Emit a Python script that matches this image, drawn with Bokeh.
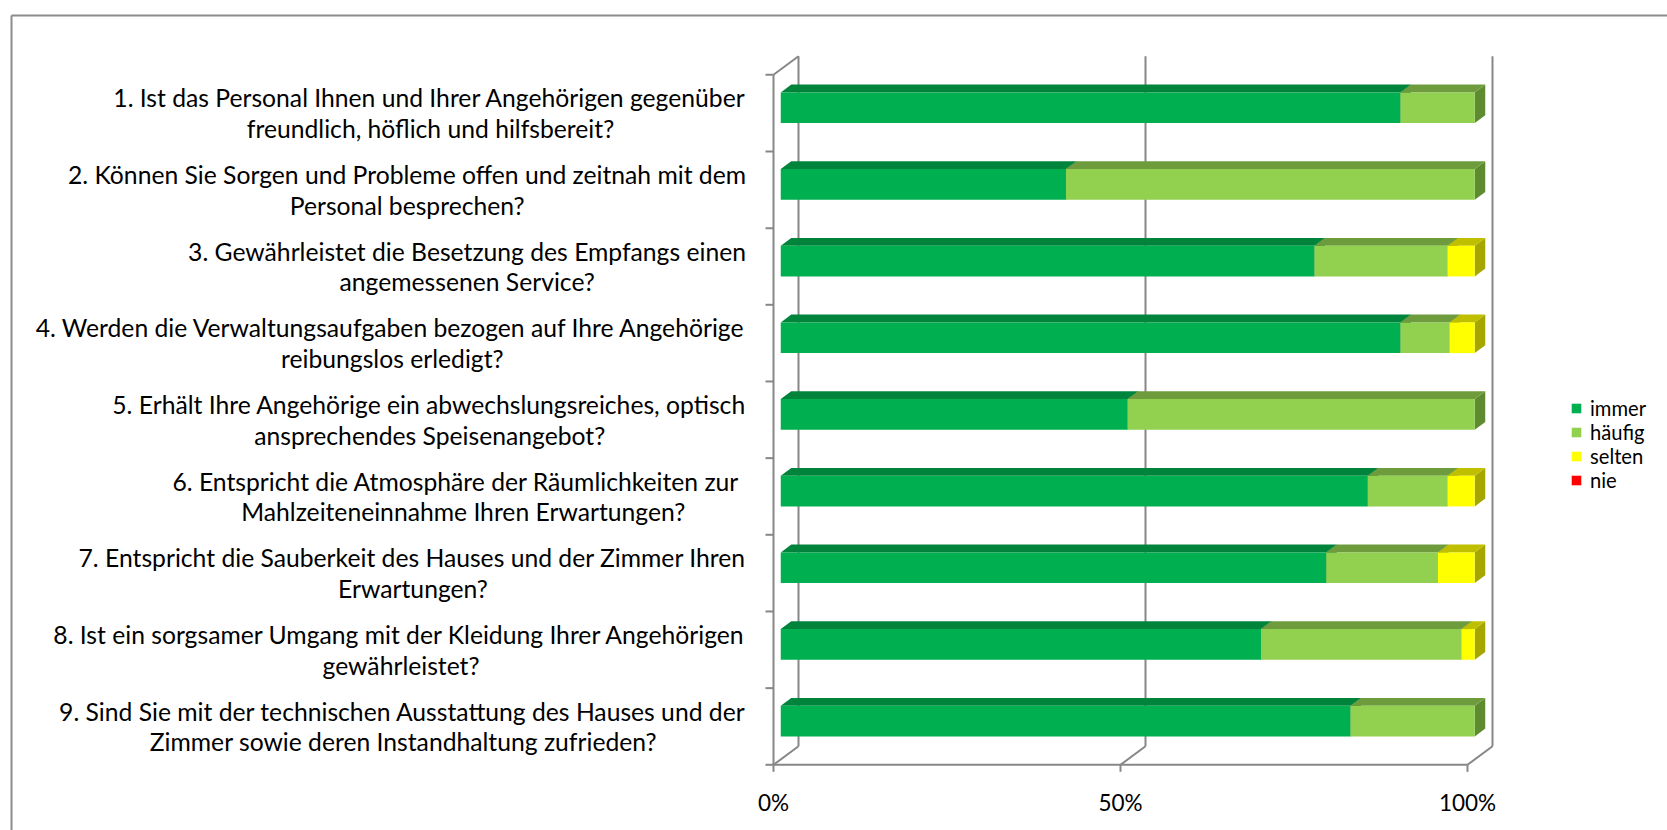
import glob
from bokeh.plotting import figure
from bokeh.models import Range1d, Legend, LegendItem
from bokeh.embed import file_html
from bokeh.resources import INLINE
from bokeh.core.properties import value

# ---------------- data ----------------
question_line1 = [
    "1. Ist das Personal Ihnen und Ihrer Angehörigen gegenüber",
    "2. Können Sie Sorgen und Probleme offen und zeitnah mit dem",
    "3. Gewährleistet die Besetzung des Empfangs einen",
    "4. Werden die Verwaltungsaufgaben bezogen auf Ihre Angehörige",
    "5. Erhält Ihre Angehörige ein abwechslungsreiches, optisch",
    "6. Entspricht die Atmosphäre der Räumlichkeiten zur ",
    "7. Entspricht die Sauberkeit des Hauses und der Zimmer Ihren",
    "8. Ist ein sorgsamer Umgang mit der Kleidung Ihrer Angehörigen",
    "9. Sind Sie mit der technischen Ausstattung des Hauses und der",
]
question_line2 = [
    "freundlich, höflich und hilfsbereit?",
    "Personal besprechen?",
    "angemessenen Service?",
    "reibungslos erledigt?",
    "ansprechendes Speisenangebot?",
    "Mahlzeiteneinnahme Ihren Erwartungen?",
    "Erwartungen?",
    "gewährleistet?",
    "Zimmer sowie deren Instandhaltung zufrieden?",
]
series_names = ["immer", "häufig", "selten", "nie"]
immer = [89.3, 41.1, 76.9, 89.3, 50.0, 84.6, 78.6, 69.2, 82.1]
haeufig = [10.7, 58.9, 19.2, 7.1, 50.0, 11.5, 16.1, 28.9, 17.9]
selten = [0.0, 0.0, 3.9, 3.6, 0.0, 3.9, 5.3, 1.9, 0.0]
nie = [0.0, 0.0, 0.0, 0.0, 0.0, 0.0, 0.0, 0.0, 0.0]
x_ticks = [0, 50, 100]
x_tick_labels = ["0%", "50%", "100%"]

# ---------------- styles ----------------
front_colors = ["#00B050", "#92D050", "#FFFF00", "#FF0000"]
top_colors = ["#00843C", "#6E9C3C", "#BFBF00", "#BF0000"]
side_colors = ["#006A30", "#5E8A30", "#A6A600", "#A00000"]
GRID = "#878787"
FONT = "Lato"

# ---------------- layout (pixels) ----------------
W, H = 1667, 830
X0_PX, X100_PX = 773.0, 1467.0
YBOT_PX, YTOP_PX = 764.3, 74.3
n = len(immer)
sx = (X100_PX - X0_PX) / 100.0        # px per percent
sy = (YBOT_PX - YTOP_PX) / n          # px per category band
DX = 25.0 / sx                        # depth offset in x (data units)
DY = 18.6 / sy                        # depth offset in y (data units)
D0, D1 = 0.29, 0.71                   # bar depth range (fraction of depth)
HALF = 0.2                            # bar half height (band units)

def px2x(px):
    return (px - X0_PX) / sx

def px2y(py):
    return (YBOT_PX - py) / sy

# ---------------- font measurement ----------------
def find_font():
    pats = ["/usr/share/fonts/**/Lato-Regular.ttf", "/usr/share/fonts/**/Lato-Reg*.ttf",
            "/usr/local/share/fonts/**/Lato-Regular.ttf", "/usr/share/fonts/**/Lato*.ttf"]
    for pat in pats:
        hits = sorted(glob.glob(pat, recursive=True))
        if hits:
            return hits[0]
    return None

font_path = find_font()
try:
    from PIL import ImageFont
    base_font = ImageFont.truetype(font_path, 100) if font_path else None
except Exception:
    base_font = None

def text_w(text, size):
    if base_font is not None:
        return base_font.getlength(text) * size / 100.0
    return len(text) * 0.5 * size

def size_for(text, target):
    return target * 100.0 / (text_w(text, 100.0))

label_size = size_for(question_line1[0], 631.0)
tick_size = label_size * 0.91
legend_size = label_size * 0.82

# ---------------- figure ----------------
p = figure(width=W, height=H, output_backend="svg", toolbar_location=None,
           x_range=Range1d(px2x(0), px2x(W)), y_range=Range1d(px2y(H), px2y(0)),
           min_border=0, outline_line_color=None)
p.xaxis.visible = False
p.yaxis.visible = False
p.xgrid.visible = False
p.ygrid.visible = False
p.background_fill_color = "white"
p.border_fill_color = "white"

# chart area border (top and left visible)
p.segment(x0=[px2x(11), px2x(11)], y0=[px2y(15), px2y(15)],
          x1=[px2x(W + 5), px2x(11)], y1=[px2y(15), px2y(H + 5)],
          line_color="#8C8C8C", line_width=2)

# back wall gridlines
p.segment(x0=[v + DX for v in x_ticks], y0=[DY] * len(x_ticks),
          x1=[v + DX for v in x_ticks], y1=[n + DY] * len(x_ticks),
          line_color=GRID, line_width=2)
# floor obliques
p.segment(x0=x_ticks, y0=[0] * len(x_ticks), x1=[v + DX for v in x_ticks],
          y1=[DY] * len(x_ticks), line_color=GRID, line_width=2)
# front floor line, left axis line, top oblique
p.segment(x0=[x_ticks[0], x_ticks[0], x_ticks[0]], y0=[0, 0, n],
          x1=[x_ticks[-1], x_ticks[0], x_ticks[0] + DX], y1=[0, n, n + DY],
          line_color=GRID, line_width=2)
# left ticks
p.segment(x0=[px2x(X0_PX - 8)] * (n + 1), y0=list(range(n + 1)),
          x1=[0] * (n + 1), y1=list(range(n + 1)), line_color=GRID, line_width=2)
# bottom ticks
p.segment(x0=x_ticks, y0=[0] * len(x_ticks), x1=x_ticks,
          y1=[px2y(YBOT_PX + 7)] * len(x_ticks), line_color=GRID, line_width=2)

# ---------------- 3D stacked bars ----------------
series = [immer, haeufig, selten, nie]
fronts = []
sides = {"xs": [], "ys": [], "c": []}
tops = {"xs": [], "ys": [], "c": []}
for k, vals in enumerate(series):
    fl, fr, fb, ft = [], [], [], []
    for i in range(n):
        start = sum(series[j][i] for j in range(k))
        end = start + vals[i]
        yc = n - i - 0.5
        yb, yt = yc - HALF, yc + HALF
        # front faces (zero-width ones are invisible)
        fl.append(start + D0 * DX)
        fr.append(end + D0 * DX)
        fb.append(yb + D0 * DY)
        ft.append(yt + D0 * DY)
        if vals[i] > 0:
            tops["xs"].append([start + D0 * DX, end + D0 * DX, end + D1 * DX, start + D1 * DX])
            tops["ys"].append([yt + D0 * DY, yt + D0 * DY, yt + D1 * DY, yt + D1 * DY])
            tops["c"].append(top_colors[k])
            sides["xs"].append([end + D0 * DX, end + D0 * DX, end + D1 * DX, end + D1 * DX])
            sides["ys"].append([yb + D0 * DY, yt + D0 * DY, yt + D1 * DY, yb + D1 * DY])
            sides["c"].append(side_colors[k])
    fronts.append((fl, fr, fb, ft))

p.patches(xs=sides["xs"], ys=sides["ys"], fill_color=sides["c"], line_color=None)
p.patches(xs=tops["xs"], ys=tops["ys"], fill_color=tops["c"], line_color=None)
legend_items = []
for k, (fl, fr, fb, ft) in enumerate(fronts):
    r = p.quad(left=fl, right=fr, bottom=fb, top=ft, fill_color=front_colors[k],
               line_color=None)
    legend_items.append(LegendItem(label=series_names[k], renderers=[r]))

# ---------------- category labels ----------------
RIGHT_PX = 745.5
line_off = 15.4 / sy
ys1 = [n - i - 0.5 + line_off for i in range(n)]
ys2 = [n - i - 0.5 - line_off for i in range(n)]
xs2 = [px2x(RIGHT_PX - text_w(question_line1[i].rstrip(), label_size) / 2.0) for i in range(n)]
p.text(x=[px2x(RIGHT_PX)] * n, y=ys1, text=question_line1, text_align="right",
       text_baseline="middle", text_font=value(FONT),
       text_font_size=f"{label_size:.1f}px", text_color="black")
p.text(x=xs2, y=ys2, text=question_line2, text_align="center",
       text_baseline="middle", text_font=value(FONT),
       text_font_size=f"{label_size:.1f}px", text_color="black")

# ---------------- x tick labels ----------------
p.text(x=x_ticks, y=[px2y(802)] * len(x_ticks), text=x_tick_labels, text_align="center",
       text_baseline="middle", text_font=value(FONT),
       text_font_size=f"{tick_size:.1f}px", text_color="black")

# ---------------- legend ----------------
legend = Legend(items=legend_items, location=(1570, 830 - 492), orientation="vertical",
                glyph_width=12, glyph_height=12, label_standoff=8, spacing=0,
                label_height=21, padding=0, margin=0, border_line_color=None,
                background_fill_alpha=0, label_text_font=FONT,
                label_text_font_size=f"{legend_size:.1f}px", label_text_color="black")
p.add_layout(legend)

open("out.html", "w").write(file_html(p, INLINE))
